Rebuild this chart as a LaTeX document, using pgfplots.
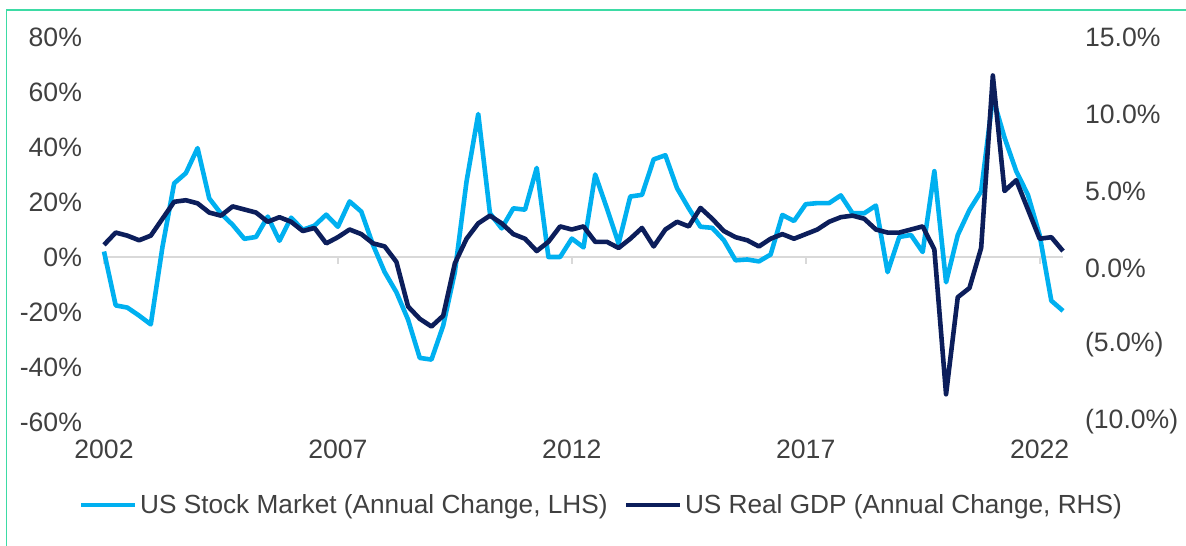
\documentclass[border=0pt]{standalone}
\usepackage{pgfplots}
\pgfplotsset{compat=1.18}
\usepackage{pgfplotstable}
\usepackage{fontspec}
\setmainfont{Liberation Sans}
\definecolor{stockc}{HTML}{00B0F0}
\definecolor{gdpc}{HTML}{0C1E5B}
\definecolor{txt}{HTML}{404040}
\definecolor{framec}{HTML}{3DDBA5}

\pgfplotstableread{
x stock gdp
2002.00 2.0 1.5
2002.25 -17.6 2.3
2002.50 -18.4 2.1
2002.75 -21.3 1.8
2003.00 -24.5 2.1
2003.25 3.7 3.2
2003.50 26.8 4.3
2003.75 30.5 4.4
2004.00 39.6 4.2
2004.25 21.3 3.6
2004.50 15.8 3.4
2004.75 11.7 4.0
2005.00 6.6 3.8
2005.25 7.3 3.6
2005.50 14.7 3.0
2005.75 5.9 3.3
2006.00 14.3 3.0
2006.25 9.9 2.4
2006.50 11.4 2.6
2006.75 15.4 1.6
2007.00 11.0 2.0
2007.25 20.2 2.5
2007.50 16.5 2.2
2007.75 4.4 1.6
2008.00 -5.5 1.4
2008.25 -12.8 0.4
2008.50 -22.8 -2.5
2008.75 -36.7 -3.3
2009.00 -37.3 -3.8
2009.25 -25.0 -3.1
2009.50 -5.5 0.3
2009.75 27.5 1.9
2010.00 52.0 2.9
2010.25 15.9 3.4
2010.50 10.4 2.9
2010.75 17.7 2.2
2011.00 17.2 1.9
2011.25 32.4 1.1
2011.50 0.0 1.7
2011.75 0.0 2.7
2012.00 6.7 2.5
2012.25 3.5 2.7
2012.50 30.0 1.7
2012.75 17.7 1.7
2013.00 4.9 1.3
2013.25 22.0 1.9
2013.50 22.6 2.6
2013.75 35.5 1.4
2014.00 37.0 2.5
2014.25 25.0 3.0
2014.50 17.7 2.7
2014.75 11.0 3.9
2015.00 10.6 3.2
2015.25 6.1 2.4
2015.50 -1.2 2.0
2015.75 -0.9 1.8
2016.00 -1.6 1.4
2016.25 0.9 1.9
2016.50 15.3 2.2
2016.75 13.1 1.9
2017.00 19.2 2.2
2017.25 19.6 2.5
2017.50 19.6 3.0
2017.75 22.4 3.3
2018.00 15.9 3.4
2018.25 15.9 3.2
2018.50 18.7 2.5
2018.75 -5.5 2.3
2019.00 7.3 2.3
2019.25 8.0 2.5
2019.50 1.8 2.7
2019.75 31.2 1.2
2020.00 -9.2 -8.2
2020.25 8.0 -1.9
2020.50 17.1 -1.3
2020.75 23.9 1.3
2021.00 58.0 12.5
2021.25 43.4 5.0
2021.50 31.2 5.7
2021.75 22.6 3.8
2022.00 8.0 1.9
2022.25 -15.9 2.0
2022.50 -19.6 1.1
}\data

\pgfplotsset{
  common/.style={
    at={(0pt,0pt)}, anchor=south west, scale only axis,
    width=479.5pt, height=192.5pt,
    xmin=2002, xmax=2022.5,
    major tick length=0pt,
    axis line style={draw=none},
    ticklabel style={font=\fontsize{13.3}{15.5}\selectfont, text=txt},
    clip=false,
  }
}

\begin{document}
\begin{tikzpicture}
\useasboundingbox (-52pt,-61.5pt) rectangle (541pt,211pt);
\draw[framec, line width=0.6pt] (-48.75pt,-62pt) -- (-48.75pt,206pt) -- (542pt,206pt);
\begin{axis}[common,
  ymin=-60, ymax=80,
  xtick={2002,2007,2012,2017,2022},
  xticklabels={2002,2007,2012,2017,2022},
  xticklabel style={yshift=-5.2pt},
  ytick={-60,-40,-20,0,20,40,60,80},
  yticklabels={-60\%,-40\%,-20\%,0\%,20\%,40\%,60\%,80\%},
  yticklabel style={anchor=east, xshift=-7.5pt},
]
\draw[black!15, line width=0.9pt] (axis cs:2002,0) -- (axis cs:2022.5,0);
\pgfplotsinvokeforeach{2002,2007,2012,2017,2022}{
  \draw[black!15, line width=0.9pt] (axis cs:#1,0) -- ([yshift=-3.5pt]axis cs:#1,0);
}
\addplot[stockc, line width=2.3pt, line join=round, no marks] table[x=x, y=stock] {\data};
\end{axis}
\begin{axis}[common,
  ymin=-10, ymax=15,
  hide x axis,
  axis y line*=right,
  ytick={-10,-5,0,5,10,15},
  yticklabels={(10.0\%),(5.0\%),0.0\%,5.0\%,10.0\%,15.0\%},
  yticklabel style={anchor=west, xshift=7.5pt},
  legend columns=2,
  legend style={at={(0.519,-0.216)}, anchor=center, draw=none, fill=none,
    font=\fontsize{13.1}{15.3}\selectfont, text=txt,
    nodes={inner xsep=1.2pt},
    /tikz/every even column/.append style={column sep=7pt}},
  legend image code/.code={\draw[#1, line width=2.3pt] (0pt,0pt) -- (27pt,0pt);},
]
\addlegendimage{stockc, line width=2.3pt}
\addlegendentry{US Stock Market (Annual Change, LHS)}
\addplot[gdpc, line width=2.3pt, line join=round, no marks] table[x=x, y=gdp] {\data};
\addlegendentry{US Real GDP (Annual Change, RHS)}
\end{axis}
\end{tikzpicture}
\end{document}
